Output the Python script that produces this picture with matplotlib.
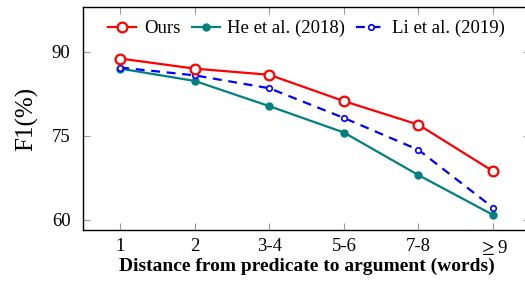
import matplotlib
matplotlib.use("Agg")
from matplotlib import pyplot as plt

# ── Data ───────────────────────────────────────────────────────────────────────
categories = ["1", "2", "3-4", "5-6", "7-8", r"$\geq$9"]
ours = [88.8, 87.0, 85.9, 81.2, 77.0, 68.7]
he_2018 = [87.0, 84.8, 80.3, 75.6, 68.0, 60.9]
li_2019 = [87.2, 85.8, 83.5, 78.2, 72.5, 62.2]

plt.rcParams["font.family"] = ["Liberation Serif", "DejaVu Serif"]
plt.rcParams["mathtext.fontset"] = "stix"

fig = plt.figure(figsize=(5.25, 2.82), dpi=100)
ax = fig.add_axes([83 / 525, 1 - 230 / 282, 1 - 83 / 525 + 0.01, 223 / 282])

x = list(range(1, len(categories) + 1))
ax.plot(x, ours, "-o", color="red", linewidth=1.6, markersize=7,
        markerfacecolor="white", markeredgewidth=1.6, label="Ours", zorder=4)
ax.plot(x, he_2018, "-o", color="#008080", linewidth=1.6, markersize=5,
        label="He et al. (2018)", zorder=3)
ax.plot(x, li_2019, "--o", color="blue", linewidth=1.6, markersize=4,
        markerfacecolor="white", markeredgewidth=1.2, dashes=(4, 3),
        label="Li et al. (2019)", zorder=3)

ax.set_xlim(0.5, 6.5)
ax.set_ylim(58.2, 98.0)
ax.set_xticks(x)
ax.set_xticklabels(categories)
ax.set_yticks([60, 75, 90])
ax.tick_params(direction="in", length=5, width=0.8, color="#999999",
               labelsize=13.5, top=True, right=True, pad=6)
ax.tick_params(axis="y", pad=9)
ax.set_xlabel("Distance from predicate to argument (words)", fontsize=14,
              fontweight="bold", labelpad=0)
ax.set_ylabel("F1(%)", fontsize=18, labelpad=10)
for spine in ax.spines.values():
    spine.set_linewidth(1.0)

ax.legend(loc="upper center", bbox_to_anchor=(0.5, 1.0), ncol=3,
          frameon=False, fontsize=13.5, handlelength=1.5, handletextpad=0.4,
          columnspacing=0.6, borderaxespad=0.3)

fig.savefig("out.png", dpi=100)
